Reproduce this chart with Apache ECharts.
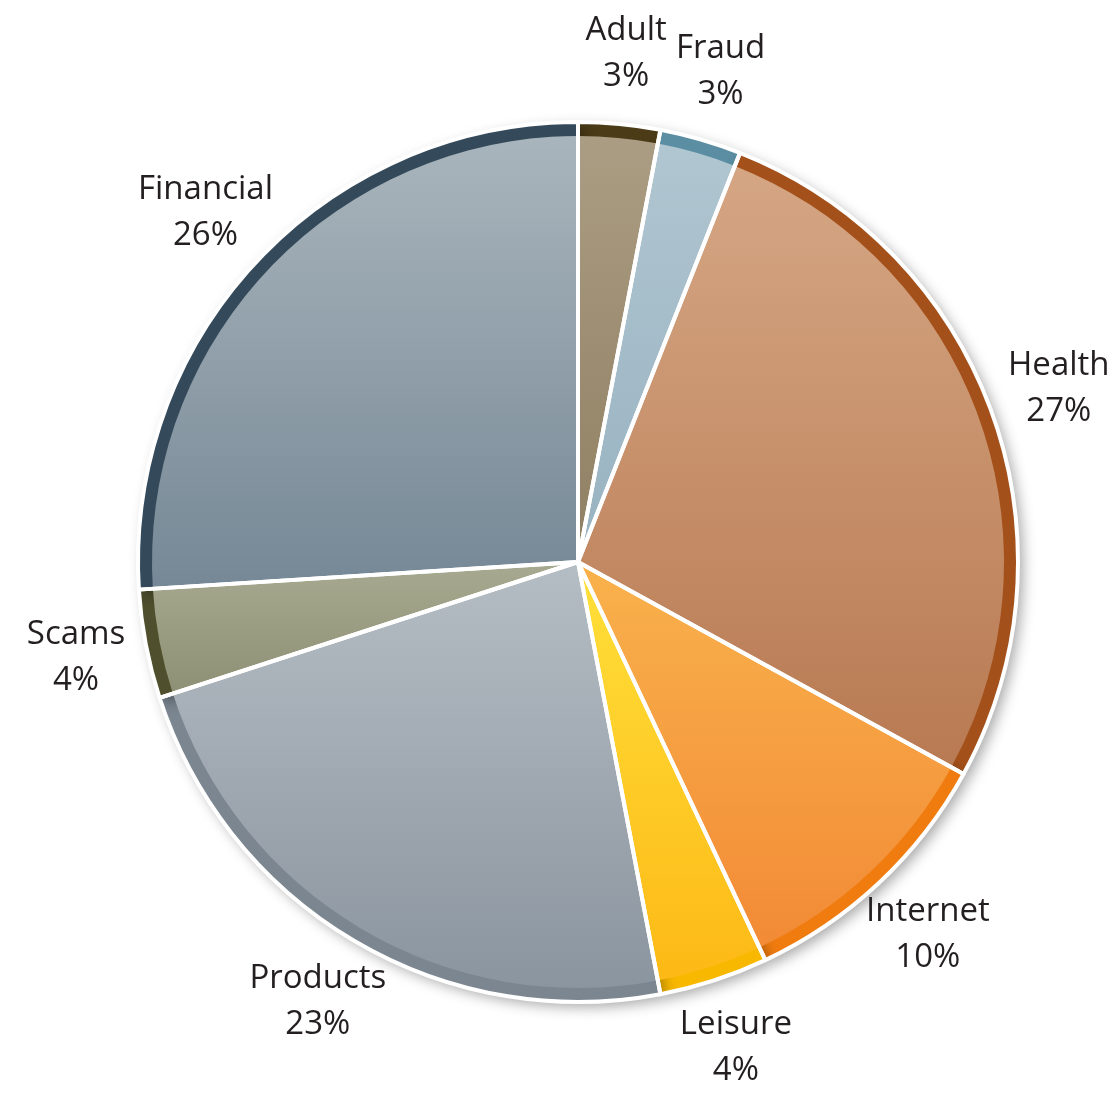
<!DOCTYPE html>
<html>
<head>
<meta charset="utf-8">
<script src="https://cdn.jsdelivr.net/npm/echarts@6/dist/echarts.min.js"></script>
<style>html,body{margin:0;padding:0;background:#fff}#c{width:1112px;height:1097px}</style>
</head>
<body>
<div id="c"></div>
<script>
const categories = ['Adult', 'Fraud', 'Health', 'Internet', 'Leisure', 'Products', 'Scams', 'Financial'];
const values = [3, 3, 27, 10, 4, 23, 4, 26];
const rimColors = ['#4b3b17', '#5b8ea3', '#a4501a', '#f07c10', '#f8b800', '#7b8691', '#4f4f2e', '#34495a'];
const topColors = ['#ab9d83', '#b0c6d1', '#d5a684', '#f9b24c', '#ffe03a', '#b5bdc4', '#a7aa90', '#a9b5bc'];
const bottomColors = ['#8f7f62', '#98b2c0', '#b87a52', '#f28a36', '#fdb916', '#8b959f', '#8d9074', '#768896'];

const CX = 578, CY = 562, R = 440, RIM = 14;

const chart = echarts.init(document.getElementById('c'), null, {renderer: 'canvas'});

function grad(i) {
  return new echarts.graphic.LinearGradient(0, 0, 0, 1, [
    {offset: 0, color: topColors[i]},
    {offset: 1, color: bottomColors[i]}
  ]);
}

const rimData = categories.map((c, i) => ({name: c, value: values[i], itemStyle: {color: rimColors[i]}}));
const innerData = categories.map((c, i) => ({name: c, value: values[i], itemStyle: {color: grad(i)}}));
const plainData = categories.map((c, i) => ({name: c, value: values[i]}));

const common = {
  type: 'pie',
  center: [CX, CY],
  startAngle: 90,
  clockwise: true,
  silent: true,
  animation: false,
  label: {show: false},
  labelLine: {show: false},
  emphasis: {disabled: true}
};

chart.setOption({
  backgroundColor: '#ffffff',
  animation: false,
  series: [
    Object.assign({}, common, {
      name: 'rim',
      radius: [0, R],
      z: 1,
      data: rimData,
      itemStyle: {shadowBlur: 14, shadowOffsetX: 5, shadowOffsetY: 5, shadowColor: 'rgba(0,0,0,0.35)'}
    }),
    Object.assign({}, common, {
      name: 'inner',
      radius: [0, R - RIM],
      z: 2,
      data: innerData
    }),
    Object.assign({}, common, {
      name: 'borders',
      radius: [0, R],
      z: 3,
      data: plainData,
      itemStyle: {color: 'rgba(0,0,0,0)', borderColor: '#ffffff', borderWidth: 4}
    }),
    Object.assign({}, common, {
      name: 'labels',
      radius: [R + 48, R + 88],
      z: 4,
      data: plainData,
      itemStyle: {color: 'rgba(0,0,0,0)'},
      label: {
        show: true,
        position: 'inside',
        rotate: 0,
        formatter: '{a|{b}}\n{a|{d}%}',
        rich: {
          a: {fontFamily: 'Open Sans', fontSize: 33, color: '#231f20', lineHeight: 46, align: 'center'}
        }
      }
    })
  ]
});
</script>
</body>
</html>
